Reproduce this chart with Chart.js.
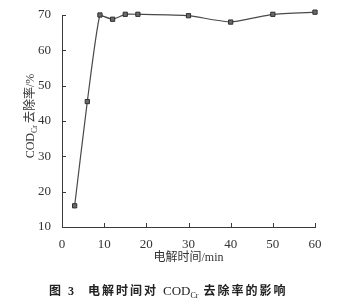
<!DOCTYPE html>
<html>
<head>
<meta charset="utf-8">
<script src="https://cdn.jsdelivr.net/npm/chart.js@4.4.0/dist/chart.umd.min.js"></script>
<style>
  html, body { margin: 0; padding: 0; background: #fff; }
  #wrap { width: 347px; height: 304px; position: relative; }
</style>
</head>
<body>
<div id="wrap"><canvas id="codChart" width="347" height="304"></canvas></div>
<script>
// --- datos ---
const times = [3, 6, 9, 12, 15, 18, 30, 40, 50, 60];          // min
const removal = [16, 45.5, 70, 68.8, 70.2, 70.2, 69.8, 68, 70.2, 70.8]; // %
const xTicks = [0, 10, 20, 30, 40, 50, 60];
const yTicks = [10, 20, 30, 40, 50, 60, 70];

const xTitle = '电解时间/min';
const yTitleMain = 'COD';
const yTitleSub = 'Cr';
const yTitleRest = '去除率/%';
const captionHead = '图 3';
const captionA = '电解时间对 ';
const captionLatin = 'COD';
const captionSub = 'Cr';
const captionB = ' 去除率的影响';

const serif = '"Liberation Serif", "DejaVu Serif", serif';
const cjk = '"Liberation Serif", "Noto Sans CJK SC", serif';
const axisColor = '#3a3a3a';

// marcas interiores + titulos + pie de figura
const decorPlugin = {
    id: 'decor',
    afterDraw(chart) {
        const ctx = chart.ctx;
        const xs = chart.scales.x, ys = chart.scales.y;
        const area = chart.chartArea;
        ctx.save();
        ctx.strokeStyle = axisColor;
        ctx.lineWidth = 1;
        // ticks hacia dentro
        xTicks.forEach(v => {
            const px = Math.round(xs.getPixelForValue(v)) + 0.5;
            ctx.beginPath(); ctx.moveTo(px, area.bottom); ctx.lineTo(px, area.bottom - 4); ctx.stroke();
        });
        yTicks.forEach(v => {
            const py = Math.round(ys.getPixelForValue(v)) + 0.5;
            ctx.beginPath(); ctx.moveTo(area.left, py); ctx.lineTo(area.left + 4, py); ctx.stroke();
        });

        // titulo eje x
        ctx.fillStyle = '#333';
        ctx.textBaseline = 'middle';
        ctx.textAlign = 'center';
        ctx.font = '12px ' + cjk;
        ctx.fillText(xTitle, (area.left + area.right) / 2, 258);

        // titulo eje y (rotado, con subindice)
        ctx.save();
        ctx.translate(31, (area.top + area.bottom) / 2 - 5);
        ctx.rotate(-Math.PI / 2);
        ctx.textAlign = 'left';
        const fMain = '12px ' + cjk, fSub = '8px ' + serif;
        ctx.font = fMain; const w1 = ctx.measureText(yTitleMain).width;
        ctx.font = fSub; const w2 = ctx.measureText(yTitleSub).width;
        ctx.font = fMain; const w3 = ctx.measureText(yTitleRest).width;
        let x0 = -(w1 + w2 + 2 + w3) / 2;
        ctx.font = fMain; ctx.fillText(yTitleMain, x0, 0); x0 += w1;
        ctx.font = fSub; ctx.fillText(yTitleSub, x0, 4); x0 += w2 + 2;
        ctx.font = fMain; ctx.fillText(yTitleRest, x0, 0);
        ctx.restore();

        // pie de figura
        ctx.fillStyle = '#222';
        ctx.textAlign = 'left';
        const cf = 'bold 12px ' + cjk, cl = '13px ' + serif, cs = '8px ' + serif;
        let cx = 49;
        const cy = 292;
        ctx.letterSpacing = '2px';
        ctx.font = cf; ctx.fillText(captionHead, cx, cy);
        cx = 88;
        ctx.fillText(captionA, cx, cy); cx += ctx.measureText(captionA).width;
        ctx.letterSpacing = '0px';
        ctx.font = cl; ctx.fillText(captionLatin, cx, cy); cx += ctx.measureText(captionLatin).width;
        ctx.font = cs; ctx.fillText(captionSub, cx, cy + 4); cx += ctx.measureText(captionSub).width;
        ctx.letterSpacing = '2px';
        ctx.font = cf; ctx.fillText(captionB, cx, cy);
        ctx.restore();
    }
};

new Chart(document.getElementById('codChart').getContext('2d'), {
    type: 'line',
    data: {
        datasets: [{
            data: times.map((t, i) => ({ x: t, y: removal[i] })),
            borderColor: '#4a4a4a',
            borderWidth: 1.2,
            tension: 0.15,
            pointStyle: 'rect',
            pointRadius: 3,
            pointBackgroundColor: '#6a6a6a',
            pointBorderColor: '#2e2e2e',
            pointBorderWidth: 1,
            clip: false,
            fill: false
        }]
    },
    options: {
        responsive: false,
        animation: false,
        layout: { padding: { top: 15, right: 32, left: 0, bottom: 0 } },
        plugins: { legend: { display: false }, tooltip: { enabled: false } },
        scales: {
            x: {
                type: 'linear', min: 0, max: 60,
                afterFit: s => { s.height = 77; },
                afterBuildTicks: s => { s.ticks = xTicks.map(v => ({ value: v })); },
                border: { display: true, color: axisColor, width: 1 },
                grid: { display: false },
                ticks: { color: '#333', font: { family: serif, size: 13 }, padding: 2, maxRotation: 0 }
            },
            y: {
                type: 'linear', min: 10, max: 70,
                afterFit: s => { s.width = 62; },
                afterBuildTicks: s => { s.ticks = yTicks.map(v => ({ value: v })); },
                border: { display: true, color: axisColor, width: 1 },
                grid: { display: false },
                ticks: { color: '#333', font: { family: serif, size: 13 }, padding: 3 }
            }
        }
    },
    plugins: [decorPlugin]
});
</script>
</body>
</html>
